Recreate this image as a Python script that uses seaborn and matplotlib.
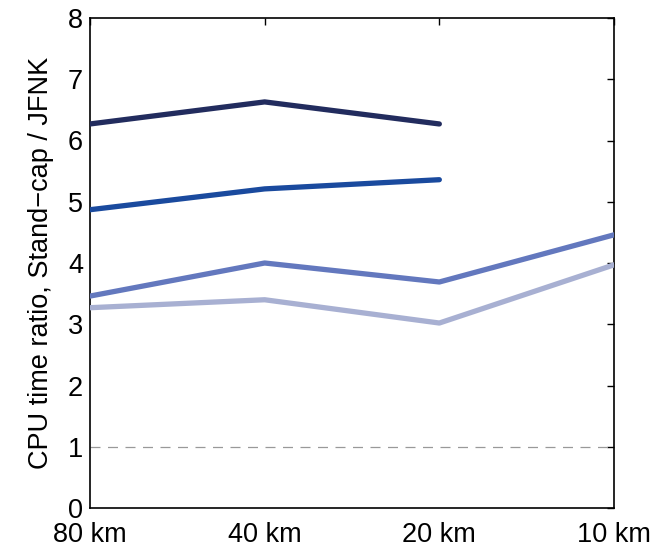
import numpy as np
import pandas as pd
import seaborn as sns
import matplotlib.pyplot as plt

# resolutions (x axis) and CPU time ratios
resolutions = ["80 km", "40 km", "20 km", "10 km"]
ratio_a = [6.27, 6.63, 6.27, np.nan]
ratio_b = [4.87, 5.21, 5.36, np.nan]
ratio_c = [3.46, 4.00, 3.69, 4.46]
ratio_d = [3.27, 3.40, 3.02, 3.97]
series_names = ["a", "b", "c", "d"]
colors = ["#222c5e", "#1a4a9e", "#6378be", "#a8b0d2"]

sns.set_theme(style="white")
plt.rcParams['font.family'] = ['Liberation Sans', 'DejaVu Sans']

pos = np.arange(len(resolutions))
df = pd.DataFrame({"pos": np.tile(pos, 4),
                   "ratio": ratio_a + ratio_b + ratio_c + ratio_d,
                   "series": np.repeat(series_names, len(resolutions))})

fig = plt.figure(figsize=(6.54, 5.49), dpi=100)
ax = fig.add_axes([90 / 654, 1 - 508 / 549, 524 / 654, 490 / 549])

ax.axhline(1, color="#999999", lw=0.9, ls=(0, (8, 6)), zorder=1)
sns.lineplot(data=df, x="pos", y="ratio", hue="series", palette=colors,
             lw=3.8, legend=False, ax=ax, zorder=3)

ax.set_xlim(0, 3)
ax.set_ylim(0, 8)
ax.set_xticks(pos)
ax.set_xticklabels(resolutions)
ax.set_yticks(range(0, 9))
ax.set_xlabel("")
ax.set_ylabel("CPU time ratio, Stand\u2212cap / JFNK", fontsize=19.5, color="black",
              labelpad=10)
ax.tick_params(direction="in", length=5, width=1, labelsize=19.5, colors="black",
               top=True, right=True, pad=5)
ax.tick_params(axis="x", pad=10)
for s in ax.spines.values():
    s.set_visible(True)
    s.set_color("black")
    s.set_linewidth(1.2)

fig.savefig("out.png", dpi=100)
